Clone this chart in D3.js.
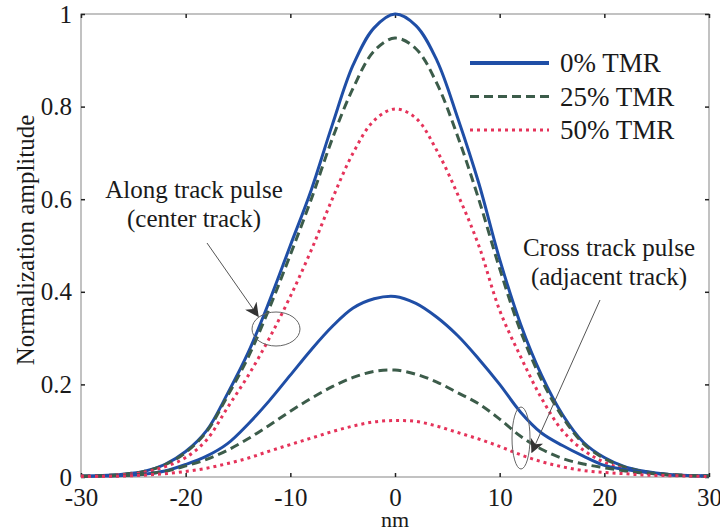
<!DOCTYPE html>
<html>
<head>
<meta charset="utf-8">
<script src="https://cdn.jsdelivr.net/npm/d3@7"></script>
<style>
  body { margin: 0; background: #fff; }
</style>
</head>
<body>
<div id="chart"></div>
<script>
// x positions (nm)
const xs = [-30,-28,-26,-24,-22,-20,-18,-16,-14,-12,-10,-8,-6,-4,-2,0,2,4,6,8,10,12,14,16,18,20,22,24,26,28,30];

// along track pulse (center track)
const along0 = [0.002,0.003,0.006,0.012,0.027,0.055,0.10,0.18,0.27,0.38,0.50,0.62,0.76,0.89,0.97,1.0,0.975,0.90,0.775,0.635,0.47,0.33,0.22,0.135,0.075,0.042,0.022,0.012,0.006,0.003,0.002];
const along25 = [0.002,0.003,0.006,0.012,0.026,0.053,0.098,0.175,0.26,0.365,0.48,0.60,0.73,0.84,0.92,0.948,0.925,0.85,0.735,0.60,0.45,0.315,0.21,0.13,0.072,0.04,0.021,0.011,0.006,0.003,0.002];
const along50 = [0.002,0.003,0.005,0.01,0.022,0.042,0.08,0.15,0.22,0.30,0.39,0.49,0.60,0.70,0.77,0.795,0.775,0.705,0.61,0.50,0.36,0.26,0.17,0.10,0.058,0.032,0.017,0.009,0.005,0.003,0.002];

// cross track pulse (adjacent track)
const cross0 = [0.001,0.002,0.003,0.006,0.013,0.027,0.045,0.072,0.115,0.165,0.22,0.275,0.325,0.365,0.385,0.39,0.375,0.345,0.305,0.255,0.20,0.14,0.095,0.068,0.045,0.025,0.016,0.01,0.005,0.003,0.002];
const cross25 = [0.001,0.002,0.003,0.006,0.012,0.024,0.038,0.058,0.083,0.112,0.142,0.17,0.195,0.215,0.228,0.231,0.222,0.205,0.182,0.158,0.125,0.088,0.06,0.04,0.028,0.02,0.013,0.008,0.005,0.003,0.002];
const cross50 = [0.001,0.001,0.002,0.004,0.007,0.012,0.019,0.029,0.041,0.056,0.07,0.084,0.098,0.11,0.119,0.122,0.12,0.11,0.096,0.082,0.066,0.048,0.033,0.022,0.014,0.01,0.007,0.004,0.003,0.002,0.001];

const seriesNames = ["0% TMR", "25% TMR", "50% TMR"];
const xTicks = [-30,-20,-10,0,10,20,30];
const yTicks = [0,0.2,0.4,0.6,0.8,1];

const width = 720, height = 530;
const margin = {top: 14, right: 11, bottom: 53, left: 81};
const serif = '"Liberation Serif", "Times New Roman", Times, serif';

const styles = [
    {color: "#1f4ea6", dash: null, w: 3},
    {color: "#3c5c4a", dash: "9,5", w: 3},
    {color: "#e5335a", dash: "3,4", w: 3}
];

const svg = d3.select("#chart").append("svg")
    .attr("width", width)
    .attr("height", height)
    .style("font-family", serif);

const x = d3.scaleLinear().domain([-30, 30]).range([margin.left, width - margin.right]);
const y = d3.scaleLinear().domain([0, 1]).range([height - margin.bottom, margin.top]);

// frame
svg.append("rect")
    .attr("x", x(-30)).attr("y", y(1))
    .attr("width", x(30) - x(-30)).attr("height", y(0) - y(1))
    .attr("fill", "none").attr("stroke", "#9a9a9a").attr("stroke-width", 1.2);

// axes with inward ticks
const xAxis = svg.append("g")
    .attr("transform", `translate(0,${y(0)})`)
    .call(d3.axisBottom(x).tickValues(xTicks).tickSizeInner(-4).tickSizeOuter(0).tickPadding(11));
const xTop = svg.append("g")
    .attr("transform", `translate(0,${y(1)})`)
    .call(d3.axisTop(x).tickValues(xTicks).tickSizeInner(-4).tickSizeOuter(0).tickFormat(""));
const yAxis = svg.append("g")
    .attr("transform", `translate(${x(-30)},0)`)
    .call(d3.axisLeft(y).tickValues(yTicks).tickSizeInner(-4).tickSizeOuter(0).tickPadding(9).tickFormat(d => d === 0 || d === 1 ? d : d.toFixed(1)));
const yRight = svg.append("g")
    .attr("transform", `translate(${x(30)},0)`)
    .call(d3.axisRight(y).tickValues(yTicks).tickSizeInner(-4).tickSizeOuter(0).tickFormat(""));

[xAxis, xTop, yAxis, yRight].forEach(g => {
    g.attr("font-family", serif);
    g.select(".domain").remove();
    g.selectAll(".tick line").attr("stroke", "#222").attr("stroke-width", 1.5);
});
xAxis.selectAll(".tick text").attr("font-size", 25).attr("fill", "#1a1a1a")
    .text(d => d < 0 ? "-" + Math.abs(d) : d);
yAxis.selectAll(".tick text").attr("font-size", 25).attr("fill", "#1a1a1a");

// axis labels
svg.append("text")
    .attr("x", x(0)).attr("y", 527)
    .attr("text-anchor", "middle").attr("font-size", 22).attr("fill", "#1a1a1a")
    .text("nm");
svg.append("text")
    .attr("transform", "translate(34,240) rotate(-90)")
    .attr("text-anchor", "middle").attr("font-size", 25).attr("fill", "#1a1a1a")
    .text("Normalization amplitude");

// curves
const line = d3.line()
    .x((d, i) => x(xs[i]))
    .y(d => y(d))
    .curve(d3.curveCatmullRom);

const groups = [[along0, along25, along50], [cross0, cross25, cross50]];
groups.forEach(g => {
    g.forEach((vals, k) => {
        svg.append("path")
            .datum(vals)
            .attr("d", line)
            .attr("fill", "none")
            .attr("stroke", styles[k].color)
            .attr("stroke-width", styles[k].w)
            .attr("stroke-dasharray", styles[k].dash);
    });
});

// legend
const legend = svg.append("g").attr("transform", "translate(470,63)");
seriesNames.forEach((name, k) => {
    legend.append("line")
        .attr("x1", 0).attr("x2", 79)
        .attr("y1", k * 33.5).attr("y2", k * 33.5)
        .attr("stroke", styles[k].color)
        .attr("stroke-width", styles[k].w + (k === 0 ? 1 : 0))
        .attr("stroke-dasharray", styles[k].dash);
    legend.append("text")
        .attr("x", 90).attr("y", k * 33.5 + 9)
        .attr("font-size", 27).attr("fill", "#1a1a1a")
        .text(name);
});

// annotations
const defs = svg.append("defs");
defs.append("marker")
    .attr("id", "head")
    .attr("viewBox", "0 0 10 10")
    .attr("refX", 9).attr("refY", 5)
    .attr("markerWidth", 14).attr("markerHeight", 14)
    .attr("markerUnits", "userSpaceOnUse")
    .attr("orient", "auto")
    .append("path")
    .attr("d", "M0,0 L10,5 L0,10 L3,5 Z")
    .attr("fill", "#333");

function note(lines, cx, cy, from, to, ell) {
    lines.forEach((t, i) => {
        svg.append("text")
            .attr("x", cx).attr("y", cy + i * 29)
            .attr("text-anchor", "middle").attr("font-size", 25).attr("fill", "#1a1a1a")
            .text(t);
    });
    svg.append("line")
        .attr("x1", from[0]).attr("y1", from[1])
        .attr("x2", to[0]).attr("y2", to[1])
        .attr("stroke", "#555").attr("stroke-width", 1)
        .attr("marker-end", "url(#head)");
    svg.append("ellipse")
        .attr("cx", ell[0]).attr("cy", ell[1])
        .attr("rx", ell[2]).attr("ry", ell[3])
        .attr("fill", "none").attr("stroke", "#666").attr("stroke-width", 1);
}

note(["Along track pulse", "(center track)"], 194, 198, [207, 243], [258, 316], [276, 329, 24, 17]);
note(["Cross track pulse", "(adjacent track)"], 609, 256, [600, 300], [532, 452], [521, 438, 9, 31]);
</script>
</body>
</html>
